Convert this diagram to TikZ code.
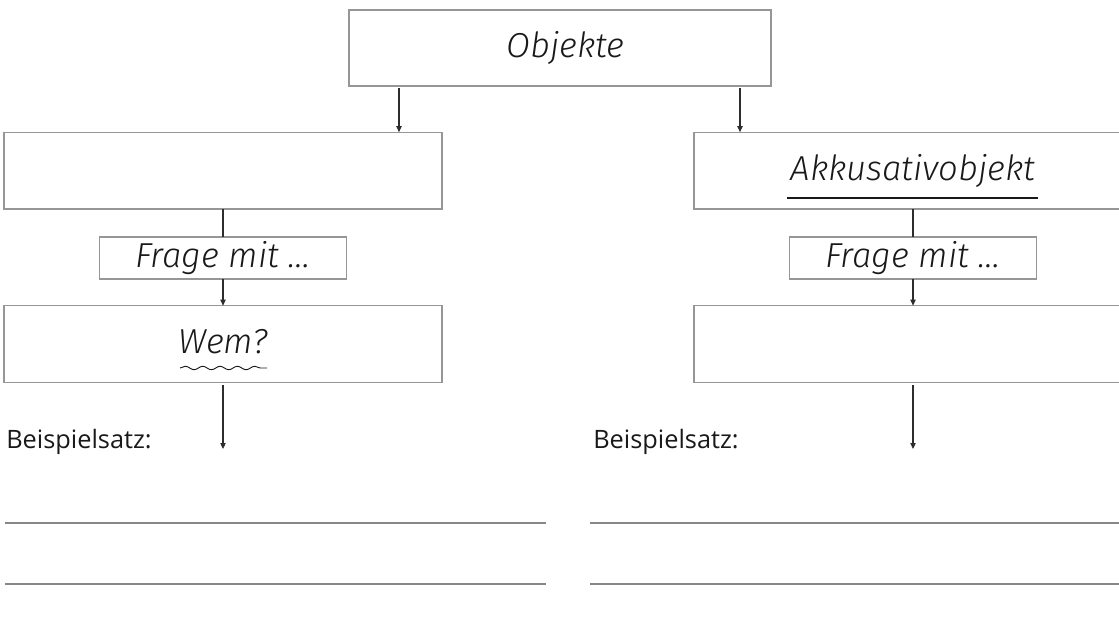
\documentclass[tikz,border=0pt]{standalone}
\usepackage{fontspec}
\setmainfont{Open Sans}
\newfontfamily\handfont{Fira Sans Light Italic}
\usetikzlibrary{arrows.meta,positioning,calc,decorations.pathmorphing}
\definecolor{framegray}{RGB}{150,150,150}
\definecolor{arrowink}{RGB}{45,45,45}
\definecolor{rulegray}{RGB}{135,135,135}
\definecolor{textink}{RGB}{25,25,25}

\begin{document}
\begin{tikzpicture}[
  x=0.75pt, y=-0.75pt,
  font=\handfont\fontsize{26}{30}\selectfont,
  box/.style={draw=framegray, line width=1pt, inner sep=0pt, outer sep=0pt,
    text=textink, minimum width=328.5pt, minimum height=57.5pt},
  askbox/.style={box, minimum width=185pt, minimum height=31.5pt},
  arr/.style={draw=arrowink, line width=0.8pt, -{Triangle[length=4.5pt,width=4pt]}},
  link/.style={draw=arrowink, line width=0.8pt},
  label/.style={font=\fontsize{19}{22}\selectfont, text=textink, anchor=base west, inner sep=0pt},
  rule/.style={draw=rulegray, line width=1.2pt},
]
  \useasboundingbox (0,0) rectangle (1119,642);
  \clip (0,0) rectangle (1119,642);

  % top
  \node[box, minimum width=316.5pt, minimum height=57pt] (top) at (560,48) {\hspace*{8pt}Objekte};

  % left column
  \node[box] (L1) at (223,170.5) {};
  \node[askbox] (LF) at (223,258) {Frage mit \dots};
  \node[box] (L2) at (223,344) {\raisebox{4pt}{Wem?}};
  \coordinate (Lend) at (223,449);

  % right column
  \node[box] (R1) at (913,170.5) {\raisebox{4pt}{Akkusativobjekt}};
  \node[askbox] (RF) at (913,258) {Frage mit \dots};
  \node[box] (R2) at (913,344) {};
  \coordinate (Rend) at (913,449);

  \draw[arr, shorten <=1.5pt] (top.south -| 399,0) -- (L1.north -| 399,0);
  \draw[arr, shorten <=1.5pt] (top.south -| 740,0) -- (R1.north -| 740,0);

  \foreach \c in {L,R} {
    \draw[link] (\c1.south) -- (\c F.north);
    \draw[arr] (\c F.south) -- (\c2.north);
    \draw[arr, shorten <=2pt] (\c2.south) -- (\c end);
  }

  % underlines
  \draw[draw=textink, line width=0.8pt] (787,198) -- (1038,198);
  \draw[draw=textink, line width=0.7pt, decorate,
    decoration={snake, amplitude=1.3pt, segment length=13pt}] (180,368) -- (267,368);

  % sample sentence
  \node[label] (LB) at (6,448) {Beispielsatz:};
  \node[label] (RB) at (593,448) {Beispielsatz:};
  \foreach \y in {523,584} {
    \draw[rule] (5,\y) -- (546,\y);
    \draw[rule] (590,\y) -- (1119,\y);
  }
\end{tikzpicture}
\end{document}
